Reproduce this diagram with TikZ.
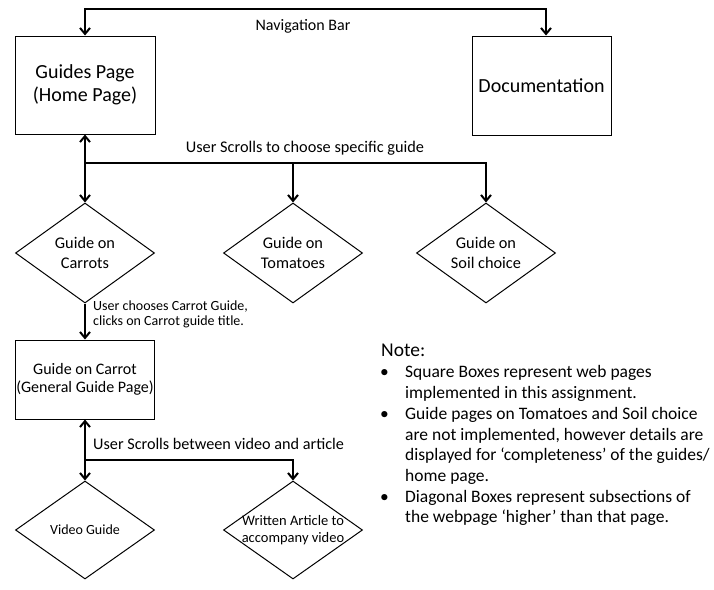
\documentclass[tikz,border=0pt]{standalone}
\usepackage{fontspec}
\setmainfont{Carlito}
\usetikzlibrary{arrows.meta,shapes.geometric}
\begin{document}
\begin{tikzpicture}[x=1pt,y=-1pt,
  page/.style={draw,line width=1pt,inner sep=0pt,align=center},
  diam/.style={draw,diamond,line width=1pt,minimum width=139pt,minimum height=100pt,inner sep=0pt},
  conn/.style={line width=2.2pt,-{Straight Barb[length=6pt,width=10pt,line width=2pt]}},
  conn2/.style={line width=2.2pt,{Straight Barb[length=6pt,width=10pt,line width=2pt]}-{Straight Barb[length=6pt,width=10pt,line width=2pt]}},
  txt/.style={inner sep=0pt,align=center},
  lbl/.style={inner sep=0pt,text height=1.5ex,text depth=.25ex},
]
\useasboundingbox (0,0) rectangle (714,589);

% pages
\node[page,minimum width=140pt,minimum height=98pt,font=\fontsize{20}{23.5}\selectfont] (home) at (85,85) {Guides Page\\(Home Page)};
\node[page,minimum width=139pt,minimum height=99pt,font=\fontsize{20}{23}\selectfont] (doc) at (541.5,85.5) {Documentation};
\node[page,minimum width=139pt,minimum height=79pt,font=\fontsize{16}{18.5}\selectfont] (gpage) at (85,379.5) {Guide on Carrot\\(General Guide Page)};

% diamonds
\node[diam] (carrots) at (85,253) {};
\node[diam] (tomatoes) at (293,253) {};
\node[diam] (soil) at (486,253) {};
\node[diam,minimum height=98pt] (video) at (85,530) {};
\node[diam,minimum height=98pt] (article) at (293,530) {};

\node[txt,font=\fontsize{16.3}{20}\selectfont] (tcarrots) at (carrots.center) {Guide on\\Carrots};
\node[txt,font=\fontsize{16.3}{20}\selectfont] (ttomatoes) at (tomatoes.center) {Guide on\\Tomatoes};
\node[txt,font=\fontsize{16.3}{20}\selectfont] (tsoil) at (soil.center) {Guide on\\Soil choice};
\node[txt,font=\fontsize{14}{17}\selectfont] (tvideo) at (video.center) {Video Guide};
\node[txt,font=\fontsize{14.5}{17}\selectfont] (tarticle) at (article.center) {Written Article to\\accompany video};

% navigation bar
\coordinate (navmid) at (300,9);
\draw[conn2] (home.north) |- (navmid) -| ([xshift=4.5pt]doc.north);
\node[lbl,font=\fontsize{16}{19}\selectfont] (navlbl) at (303,28) {Navigation Bar};

% home to guides
\coordinate (j1) at (85,163);
\draw[conn2] (home.south) -- (carrots.north);
\draw[conn] (j1) -| (tomatoes.north);
\draw[conn] (j1) -| (soil.north);
\node[lbl,font=\fontsize{16.3}{19}\selectfont] (scroll1) at (305,150) {User Scrolls to choose specific guide};

% carrots to guide page
\draw[conn] (carrots.south) -- (gpage.north);
\node[lbl,anchor=west,font=\fontsize{14}{16}\selectfont] (ch1) at (93,308) {User chooses Carrot Guide,};
\node[lbl,anchor=west,font=\fontsize{14}{16}\selectfont] (ch2) at (93,323) {clicks on Carrot guide title.};

% guide page to video / article
\coordinate (j2) at (85,460);
\draw[conn2] (gpage.south) -- (video.north);
\draw[conn] (j2) -| (article.north);
\node[lbl,anchor=west,font=\fontsize{16.2}{18}\selectfont] (scroll2) at (93,447) {User Scrolls between video and article};

% note
\node[lbl,anchor=west,font=\fontsize{19.5}{22}\selectfont] (note) at (381,354) {Note:};
\begin{scope}[every node/.style={lbl,anchor=west,font=\fontsize{17.5}{20}\selectfont}]
\node (b1) at (380,375) {•};
\node (n1) at (405,375) {Square Boxes represent web pages};
\node (n2) at (405,395.5) {implemented in this assignment.};
\node (b2) at (380,417) {•};
\node (n3) at (405,417) {Guide pages on Tomatoes and Soil choice};
\node (n4) at (405,437.5) {are not implemented, however details are};
\node (n5) at (405,458) {displayed for ‘completeness’ of the guides/};
\node (n6) at (405,479) {home page.};
\node (b3) at (380,500) {•};
\node (n7) at (405,500) {Diagonal Boxes represent subsections of};
\node (n8) at (405,520) {the webpage ‘higher’ than that page.};
\end{scope}
\end{tikzpicture}
\end{document}
